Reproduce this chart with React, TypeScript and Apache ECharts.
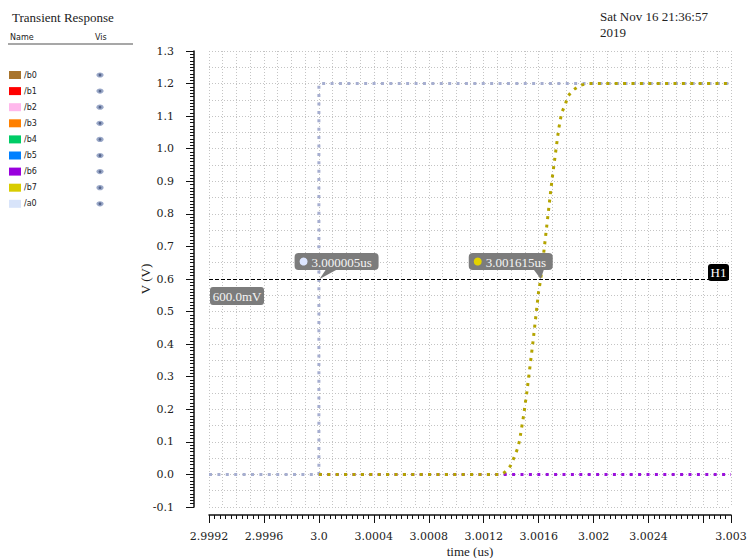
import React, { useEffect, useRef } from 'react';
import * as echarts from 'echarts';

const legendNames = ['/b0', '/b1', '/b2', '/b3', '/b4', '/b5', '/b6', '/b7', '/a0'];
const legendColors = ['#a8742c', '#ff0000', '#ffb8ec', '#ff8000', '#00cc66', '#0080ff', '#9900dd', '#d8cc00', '#d8e4fa'];

const xMin = 2.9992;
const xMax = 3.003;
const xInterval = 0.0004;
const yMin = -0.1;
const yMax = 1.3;
const yInterval = 0.1;
const hiddenXLabel = 3.0028;

const a0Data: number[][] = [[2.9992, 0], [3.0, 0], [3.0, 1.2], [3.003, 1.2]];
const b6Data: number[][] = [[3.0, 0], [3.003, 0]];
const b7Data: number[][] = [
  [3.0, 0], [3.00133, 0], [3.001353, 0.007], [3.001394, 0.026], [3.001418, 0.049],
  [3.001442, 0.075], [3.00146, 0.102], [3.00149, 0.18], [3.001515, 0.256],
  [3.001559, 0.409], [3.0016, 0.563], [3.001615, 0.6], [3.00165, 0.73],
  [3.001697, 0.905], [3.001745, 1.059], [3.001767, 1.11], [3.001794, 1.136],
  [3.001811, 1.16], [3.001847, 1.179], [3.001898, 1.194], [3.001956, 1.2], [3.003, 1.2],
];

const markerTimes = [3.000005, 3.001615];
const markerTexts = ['3.000005us', '3.001615us'];
const markerDotColors = ['#dde6ff', '#e2d200'];
const hLevel = 0.6;
const hLevelText = '600.0mV';
const hName = 'H1';

const titleText = 'Transient Response';
const dateLines = ['Sat Nov 16 21:36:57', '2019'];

const SERIF = '"Liberation Serif", serif';
const TICKFONT = '"DejaVu Serif", serif';
const SANS = '"DejaVu Sans", sans-serif';

function fmtX(v: number) {
  if (Math.abs(v - hiddenXLabel) < 1e-7) return '';
  let s = String(parseFloat(v.toFixed(4)));
  if (s.indexOf('.') < 0) s += '.0';
  return s;
}

export default function App() {
  const ref = useRef<HTMLDivElement>(null);
  useEffect(() => {
    if (!ref.current) return;
    const chart = echarts.init(ref.current, undefined, { renderer: 'svg' });
    const dotLine = (color: string) => ({ color, width: 3, type: [3, 5.4], cap: 'butt' as const });
    const gridLine = { show: true, lineStyle: { color: '#c4c4c4', width: 1, type: [1, 2] } };

    const legendGraphics: any[] = [];
    legendNames.forEach((n, i) => {
      const cy = 75 + i * 16.1;
      legendGraphics.push({ type: 'rect', shape: { x: 9, y: cy - 4, width: 12, height: 8 }, style: { fill: legendColors[i] } });
      legendGraphics.push({ type: 'text', x: 24, y: cy, style: { text: n, font: '8px ' + SANS, fill: '#222', verticalAlign: 'middle' } });
      legendGraphics.push({ type: 'ellipse', shape: { cx: 100, cy, rx: 3.6, ry: 2.6 }, style: { fill: '#9aa8c8' } });
      legendGraphics.push({ type: 'circle', shape: { cx: 100, cy, r: 1.4 }, style: { fill: '#55648a' } });
    });

    const staticGraphics: any[] = [
      { type: 'text', x: 12, y: 17, style: { text: titleText, font: '13px ' + SERIF, fill: '#222', verticalAlign: 'middle' } },
      { type: 'text', x: 600, y: 16, style: { text: dateLines[0], font: '13px ' + SERIF, fill: '#222', verticalAlign: 'middle' } },
      { type: 'text', x: 600, y: 32, style: { text: dateLines[1], font: '13px ' + SERIF, fill: '#222', verticalAlign: 'middle' } },
      { type: 'text', x: 10, y: 37, style: { text: 'Name', font: '8px ' + SANS, fill: '#222', verticalAlign: 'middle' } },
      { type: 'text', x: 95, y: 37, style: { text: 'Vis', font: '8px ' + SANS, fill: '#222', verticalAlign: 'middle' } },
      { type: 'line', shape: { x1: 8, y1: 44, x2: 133, y2: 44 }, style: { stroke: '#8a8a8a', lineWidth: 1.5 } },
      ...legendGraphics,
    ];

    chart.setOption({
      animation: false,
      grid: { left: 209, width: 522, top: 51, height: 456, outerBoundsMode: 'none', containLabel: false },
      xAxis: [
        {
          type: 'value', min: xMin, max: xMax, interval: xInterval, offset: 8,
          name: 'time (us)', nameLocation: 'middle', nameGap: 30, nameMoveOverlap: false,
          nameTextStyle: { fontFamily: SERIF, fontSize: 13, color: '#222' },
          axisLine: { show: true, onZero: false, lineStyle: { color: '#111', width: 1.5 } },
          axisTick: { show: true, length: 8, lineStyle: { color: '#111' } },
          minorTick: { show: true, splitNumber: 10, length: 4, lineStyle: { color: '#111' } },
          axisLabel: { formatter: fmtX, fontFamily: TICKFONT, fontSize: 11, color: '#222', margin: 16, showMaxLabel: true, showMinLabel: true },
          splitLine: { show: false },
        },
        {
          type: 'value', min: xMin, max: xMax, interval: 0.0001, show: true,
          axisLine: { show: false }, axisTick: { show: false }, axisLabel: { show: false },
          splitLine: gridLine,
        },
      ],
      yAxis: [
        {
          type: 'value', min: yMin, max: yMax, interval: yInterval, offset: 15,
          name: 'V (V)', nameLocation: 'middle', nameGap: 42, nameMoveOverlap: false,
          nameTextStyle: { fontFamily: SERIF, fontSize: 13, color: '#222' },
          axisLine: { show: true, onZero: false, lineStyle: { color: '#111', width: 1.5 } },
          axisTick: { show: true, length: 8, lineStyle: { color: '#111' } },
          minorTick: { show: true, splitNumber: 10, length: 4, lineStyle: { color: '#111' } },
          axisLabel: { formatter: (v: number) => v.toFixed(1), fontFamily: TICKFONT, fontSize: 11, color: '#222', margin: 20 },
          splitLine: { show: false },
        },
        {
          type: 'value', min: yMin, max: yMax, interval: 0.05, show: true,
          axisLine: { show: false }, axisTick: { show: false }, axisLabel: { show: false },
          splitLine: gridLine,
        },
      ],
      series: [
        { name: '/a0', type: 'line', data: a0Data, showSymbol: false, lineStyle: dotLine('#a6aed0'), z: 2 },
        { name: '/b6', type: 'line', data: b6Data, showSymbol: false, lineStyle: dotLine('#9a10dc'), z: 3 },
        {
          name: '/b7', type: 'line', data: b7Data, showSymbol: false, lineStyle: dotLine('#b4a400'), z: 4,
          markLine: {
            silent: true, symbol: 'none', animation: false,
            lineStyle: { color: '#000', width: 1, type: [4, 2] },
            label: { show: false },
            data: [{ yAxis: hLevel }],
          },
        },
      ],
      graphic: staticGraphics,
    });

    const g: any[] = [...staticGraphics];
    const [hx0] = chart.convertToPixel({ xAxisIndex: 0, yAxisIndex: 0 }, [xMin, hLevel]) as number[];
    const [hx1, hy] = chart.convertToPixel({ xAxisIndex: 0, yAxisIndex: 0 }, [xMax, hLevel]) as number[];
    g.push({ type: 'rect', shape: { x: hx0 + 1, y: hy + 8, width: 54, height: 18, r: 3 }, style: { fill: '#7c7c7c' } });
    g.push({ type: 'text', x: hx0 + 28, y: hy + 17, style: { text: hLevelText, font: '13px ' + SERIF, fill: '#f4f4f4', align: 'center', verticalAlign: 'middle' } });
    g.push({ type: 'rect', shape: { x: hx1 - 23, y: hy - 15, width: 21, height: 17, r: 3 }, style: { fill: '#000' } });
    g.push({ type: 'text', x: hx1 - 12.5, y: hy - 6.5, style: { text: hName, font: '13px ' + SERIF, fill: '#fff', align: 'center', verticalAlign: 'middle' } });
    const boxOffsets = [-25, -72];
    const tailOffsets = [[8, 22], [-9, 4]];
    markerTimes.forEach((t, i) => {
      const [px, py] = chart.convertToPixel({ xAxisIndex: 0, yAxisIndex: 0 }, [t, hLevel]) as number[];
      const left = px + boxOffsets[i];
      const top = py - 26;
      g.push({ type: 'polygon', shape: { points: [[px + tailOffsets[i][0], top + 14], [px + tailOffsets[i][1], top + 14], [px, py]] }, style: { fill: '#7c7c7c' }, z: 10 });
      g.push({ type: 'rect', shape: { x: left, y: top, width: 84, height: 17, r: 4 }, style: { fill: '#7c7c7c' }, z: 10 });
      g.push({ type: 'circle', shape: { cx: left + 9, cy: top + 8.5, r: 4 }, style: { fill: markerDotColors[i] }, z: 11 });
      g.push({ type: 'text', x: left + 17, y: top + 9, style: { text: markerTexts[i], font: '13px ' + SERIF, fill: '#f4f4f4', verticalAlign: 'middle' }, z: 11 });
    });
    chart.setOption({ graphic: g }, { replaceMerge: ['graphic'] });

    return () => chart.dispose();
  }, []);
  return <div ref={ref} style={{ position: 'fixed', left: 0, top: 0, width: 750, height: 558, background: '#fff' }} />;
}
